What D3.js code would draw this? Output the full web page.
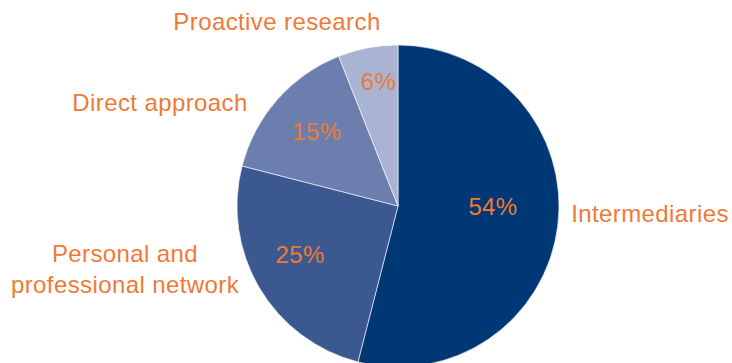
<!DOCTYPE html>
<html>
<head>
<meta charset="utf-8">
<script src="https://cdn.jsdelivr.net/npm/d3@7"></script>
<style>
  html, body { margin: 0; padding: 0; background: #ffffff; }
  svg { display: block; }
  text { font-family: "Liberation Sans", Arial, Helvetica, sans-serif; }
</style>
</head>
<body>
<svg id="chart" width="732" height="363"></svg>
<script>
// Sources of hiring, share of total (%)
const categories = ["Intermediaries", "Personal and professional network", "Direct approach", "Proactive research"];
const shares = [54, 25, 15, 6];
const valueLabels = ["54%", "25%", "15%", "6%"];
const sliceColors = ["#003876", "#3b5990", "#6b7eae", "#a9b3d3"];

const cx = 398, cy = 206, R = 161;
const orange = "#ee7a36";
const fontSize = 24;

const svg = d3.select("#chart");
const g = svg.append("g").attr("transform", `translate(${cx},${cy})`);

const pie = d3.pie().sort(null).value(d => d)(shares);
const arc = d3.arc().innerRadius(0).outerRadius(R);

g.selectAll("path.slice")
  .data(pie)
  .join("path")
  .attr("class", "slice")
  .attr("d", arc)
  .attr("fill", (d, i) => sliceColors[i])
  .attr("stroke", "#ffffff")
  .attr("stroke-width", 0.6);

// Percentage labels inside slices: distance from centre and position along the slice
const insideRadius = [95, 109, 110, 126];
const insideFrac = [0.463, 0.549, 0.519, 0.59];
function insidePos(d, i) {
  const a = d.startAngle + (d.endAngle - d.startAngle) * insideFrac[i];
  return [Math.sin(a) * insideRadius[i], -Math.cos(a) * insideRadius[i]];
}
g.selectAll("text.pct")
  .data(pie)
  .join("text")
  .attr("class", "pct")
  .attr("x", (d, i) => insidePos(d, i)[0])
  .attr("y", (d, i) => insidePos(d, i)[1])
  .attr("dy", "0.36em")
  .attr("text-anchor", "middle")
  .attr("font-size", fontSize)
  .attr("letter-spacing", 0.4)
  .attr("fill", orange)
  .text((d, i) => valueLabels[i]);

// Category labels outside the pie
const outside = [
  { lines: ["Intermediaries"], x: 650, y: 222 },
  { lines: ["Personal and", "professional network"], x: 125, y: 262 },
  { lines: ["Direct approach"], x: 160, y: 111 },
  { lines: ["Proactive research"], x: 277, y: 30 }
];
outside.forEach((o) => {
  const t = svg.append("text")
    .attr("text-anchor", "middle")
    .attr("font-size", fontSize)
    .attr("letter-spacing", 0.4)
    .attr("fill", orange)
    .attr("x", o.x)
    .attr("y", o.y);
  o.lines.forEach((line, k) => {
    t.append("tspan").attr("x", o.x).attr("dy", k === 0 ? 0 : 31).text(line);
  });
});
</script>
</body>
</html>
